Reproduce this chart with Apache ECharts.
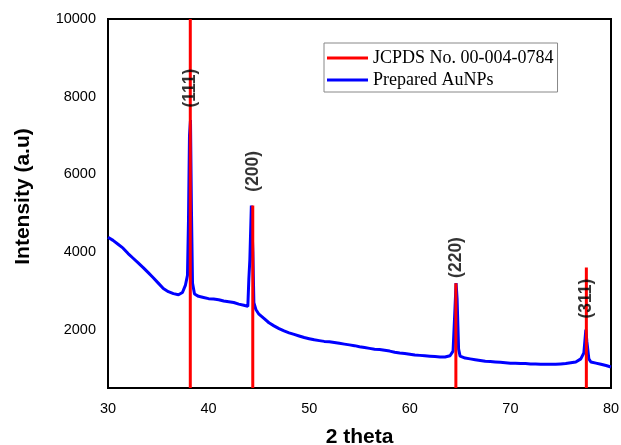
<!DOCTYPE html>
<html>
<head>
<meta charset="utf-8">
<script src="https://cdn.jsdelivr.net/npm/echarts@6/dist/echarts.min.js"></script>
<style>html,body{margin:0;padding:0;background:#fff;}#c{width:621px;height:445px;}</style>
</head>
<body>
<div id="c"></div>
<script>
// Reference peaks (JCPDS No. 00-004-0784)
const refPos = [38.18, 44.39, 64.58, 77.55];
const refHeight = [10000, 5200, 3200, 3600];
const peakLabels = ['(111)', '(200)', '(220)', '(311)'];
const peakLabelY = [8220, 6080, 3860, 2800];

// Prepared AuNPs pattern: 2theta and intensity
const twoTheta = [30.0,30.5,31.0,31.5,32.0,32.5,33.0,33.5,34.0,34.5,35.0,35.5,36.0,36.5,37.0,37.4,37.7,37.9,38.0,38.1,38.2,38.3,38.4,38.6,39.0,39.5,40.0,40.5,41.0,41.5,42.0,42.5,43.0,43.5,43.9,44.0,44.1,44.25,44.4,44.5,44.7,45.0,45.5,46.0,46.5,47.0,47.5,48.0,48.5,49.0,49.5,50.0,50.5,51.0,51.5,52.0,52.5,53.0,53.5,54.0,54.5,55.0,55.5,56.0,56.5,57.0,57.5,58.0,58.5,59.0,59.5,60.0,60.5,61.0,61.5,62.0,62.5,63.0,63.5,64.0,64.3,64.5,64.6,64.7,64.85,65.0,65.5,66.0,66.5,67.0,67.5,68.0,68.5,69.0,69.5,70.0,70.5,71.0,71.5,72.0,72.5,73.0,73.5,74.0,74.5,75.0,75.5,76.0,76.5,77.0,77.3,77.5,77.6,77.8,78.0,78.5,79.0,79.5,80.0];
const intensity = [4380,4300,4200,4100,3960,3840,3720,3600,3470,3340,3200,3060,2980,2930,2900,2960,3150,3400,4800,7000,7400,5000,3200,2920,2860,2830,2800,2790,2770,2740,2720,2700,2660,2630,2600,3300,3800,5200,4000,2700,2520,2400,2290,2180,2100,2030,1970,1920,1880,1840,1800,1770,1740,1720,1700,1690,1670,1650,1630,1610,1590,1560,1540,1520,1500,1490,1470,1450,1420,1400,1390,1370,1350,1340,1330,1320,1310,1300,1300,1330,1450,2600,3200,2800,1500,1320,1270,1250,1230,1210,1190,1180,1170,1160,1150,1140,1140,1130,1130,1120,1120,1110,1110,1110,1110,1120,1130,1150,1170,1250,1400,2000,1700,1250,1170,1140,1110,1080,1040];

const xTicks = {min: 30, max: 80, interval: 10};
const yTicks = {min: 500, max: 10000, interval: 500, labelEvery: 2000};

const REF_NAME = 'JCPDS No. 00-004-0784';
const SAMPLE_NAME = 'Prepared AuNPs';
const yMin = yTicks.min;
const lineIcon = 'path://M0,0 L41,0 L41,3 L0,3 Z';

const series = [];
refPos.forEach((p, i) => {
  series.push({
    name: REF_NAME, type: 'line', symbol: 'none', silent: true,
    lineStyle: {color: '#ff0000', width: 3}, itemStyle: {color: '#ff0000'},
    data: [[p, yMin], [p, refHeight[i]]], z: 3
  });
});
series.push({
  name: SAMPLE_NAME, type: 'line', symbol: 'none',
  lineStyle: {color: '#0000ff', width: 3}, itemStyle: {color: '#0000ff'},
  data: twoTheta.map((t, i) => [t, intensity[i]]), z: 2
});
series.push({
  name: 'labels', type: 'scatter', symbolSize: 0, silent: true, z: 5,
  data: refPos.map((p, i) => ({name: peakLabels[i], value: [p, peakLabelY[i]]})),
  label: {show: true, position: 'inside', rotate: 90, formatter: '{b}',
    color: '#000', fontFamily: 'Liberation Sans, Arial', fontWeight: 'bold', fontSize: 17.5}
});

const chart = echarts.init(document.getElementById('c'), null, {renderer: 'canvas'});
chart.setOption({
  backgroundColor: '#ffffff',
  animation: false,
  grid: {left: 108, right: 10, top: 19, bottom: 57, show: true, borderColor: '#000', borderWidth: 2, backgroundColor: '#fff',
    containLabel: false, outerBoundsMode: 'none'},
  legend: {
    data: [{name: REF_NAME, icon: lineIcon}, {name: SAMPLE_NAME, icon: lineIcon}],
    orient: 'vertical', left: 324, top: 43,
    itemWidth: 41, itemHeight: 20, itemGap: 2, padding: [5, 4, 2, 3],
    borderColor: '#888', borderWidth: 1, backgroundColor: '#fff',
    textStyle: {fontFamily: 'Liberation Serif, Times New Roman', fontSize: 18, color: '#000', lineHeight: 20},
    selectedMode: false
  },
  xAxis: {
    type: 'value', min: xTicks.min, max: xTicks.max, interval: xTicks.interval,
    name: '2 theta', nameLocation: 'middle', nameGap: 39,
    nameTextStyle: {fontFamily: 'Liberation Sans, Arial', fontWeight: 'bold', fontSize: 21, color: '#000'},
    axisLine: {show: true, lineStyle: {color: '#000', width: 2}},
    axisTick: {show: false}, splitLine: {show: false},
    axisLabel: {margin: 13, fontFamily: 'Liberation Sans, Arial', fontSize: 14.5, color: '#000'}
  },
  yAxis: {
    type: 'value', min: yTicks.min, max: yTicks.max, interval: yTicks.interval,
    name: 'Intensity (a.u)', nameLocation: 'middle', nameGap: 74, nameRotate: 90,
    nameTextStyle: {fontFamily: 'Liberation Sans, Arial', fontWeight: 'bold', fontSize: 21, color: '#000', padding: [0, 0, 0, 14]},
    axisLine: {show: true, lineStyle: {color: '#000', width: 2}},
    axisTick: {show: false}, splitLine: {show: false},
    axisLabel: {margin: 12, fontFamily: 'Liberation Sans, Arial', fontSize: 14.5, color: '#000',
      formatter: v => (v % yTicks.labelEvery === 0 ? String(v) : '')}
  },
  series: series
});
</script>
</body>
</html>
